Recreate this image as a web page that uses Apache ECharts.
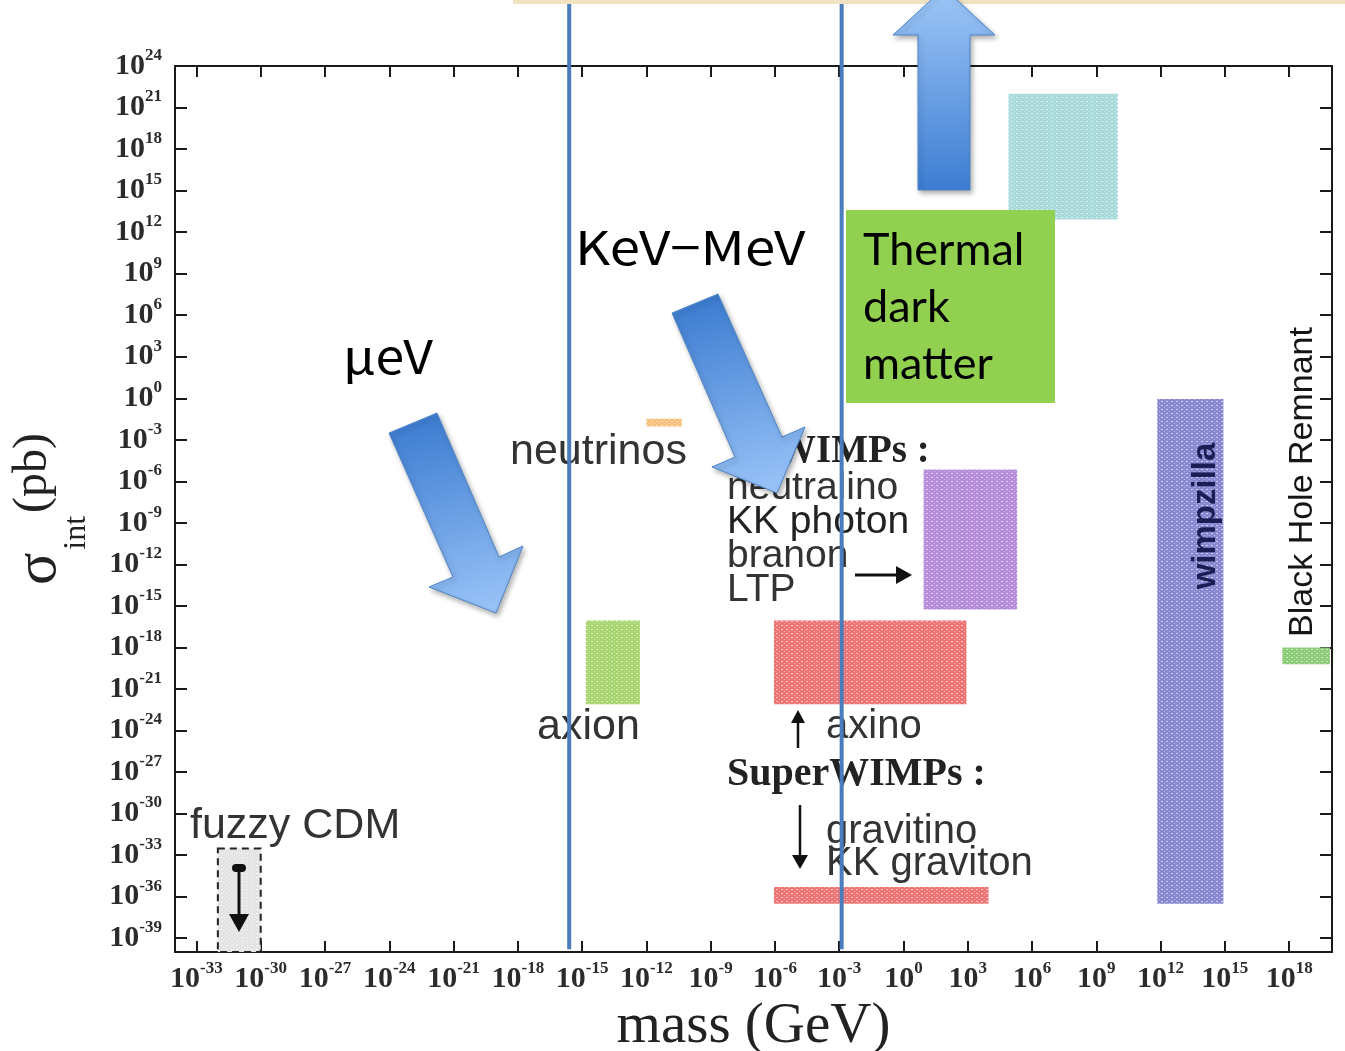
<!DOCTYPE html>
<html>
<head>
<meta charset="utf-8">
<title>Dark matter candidates</title>
<script src="https://cdn.jsdelivr.net/npm/echarts@6/dist/echarts.min.js"></script>
<style>
  html, body { margin: 0; padding: 0; background: #fff; }
  #chart { width: 1345px; height: 1051px; }
</style>
</head>
<body>
<div id="chart"></div>
<script>
// candidate regions: mass range (GeV) and interaction cross section range (pb)
const regionNames = ['fuzzy CDM', 'neutrinos', 'axion', 'WIMPs', 'axino', 'gravitino', 'wimpzilla', 'Q-ball', 'Black Hole Remnant'];
const massLow   = [1e-32, 1e-12,  1.5e-15, 8.7,     9e-7,  9e-7,   7e11,   8e4,   4.8e17];
const massHigh  = [1e-30, 4.5e-11, 5e-13,  2e5,     870,   9.3e3,  8.5e14, 1e10,  8e19];
const sigmaLow  = [1e-40, 9e-3,   8e-23,   5.6e-16, 8e-23, 3e-37,  3e-37,  8e12,  6e-20];
const sigmaHigh = [3e-33, 3.3e-2, 9e-17,   7e-6,    9e-17, 5e-36,  0.9,    1e22,  1e-18];

// blue separators drawn over the plot (GeV)
const separatorMass = [2.5e-16, 1.3e-3];
const separatorSigma = [1.6e-40, 3e28];

// tick labels
const xTicks = [1e-33, 1e-30, 1e-27, 1e-24, 1e-21, 1e-18, 1e-15, 1e-12, 1e-9, 1e-6, 1e-3, 1, 1e3, 1e6, 1e9, 1e12, 1e15, 1e18];
const yTicks = [1e-39, 1e-36, 1e-33, 1e-30, 1e-27, 1e-24, 1e-21, 1e-18, 1e-15, 1e-12, 1e-9, 1e-6, 1e-3, 1, 1e3, 1e6, 1e9, 1e12, 1e15, 1e18, 1e21, 1e24];

// region colours
const regionColors = ['#e4e4e4', '#f7c17c', '#a9d570', '#b68ddb', '#ef7575', '#ef7575', '#8787d2', '#a8dada', '#8dcc78'];

// dotted texture like the scanned figure
function dotted(color) {
  const c = document.createElement('canvas');
  c.width = 5; c.height = 4;
  const g = c.getContext('2d');
  g.fillStyle = color; g.fillRect(0, 0, 5, 4);
  g.fillStyle = 'rgba(255,255,255,0.6)';
  g.fillRect(1, 1, 2, 1);
  g.fillStyle = 'rgba(255,255,255,0.4)';
  g.fillRect(4, 3, 1, 1);
  return { image: c, repeat: 'repeat' };
}

const chart = echarts.init(document.getElementById('chart'));

const sansFont = '"Liberation Sans", Arial, sans-serif';
const serifFont = '"Liberation Serif", "Times New Roman", serif';
const slideFont = '"Noto Sans CJK JP", "Noto Sans", sans-serif';

function powLabel(v) {
  return '{b|10}{s|' + Math.round(Math.log10(v)) + '}';
}
const powRich = {
  b: { fontFamily: serifFont, fontWeight: 'bold', fontSize: 30, color: '#2b2b2b', lineHeight: 38 },
  s: { fontFamily: serifFont, fontWeight: 'bold', fontSize: 17, color: '#2b2b2b', lineHeight: 17, verticalAlign: 'top' }
};

const lineStyle = { color: '#1a1a1a', width: 2 };

function makeAxis(extra) {
  return Object.assign({
    type: 'log',
    logBase: 10,
    axisLine: { onZero: false, lineStyle: lineStyle },
    splitLine: { show: false },
    minorTick: { show: false }
  }, extra);
}

const txt = (x, y, text, size, opts) => ({
  type: 'text', x: x, y: y, z: 5,
  style: Object.assign({ text: text, font: size + 'px ' + sansFont, fill: '#333', verticalAlign: 'middle' }, opts || {})
});

const arrowFill = (x, y, x2, y2) => ({
  type: 'linear', x: x, y: y, x2: x2, y2: y2,
  colorStops: [{ offset: 0, color: '#3b7bd0' }, { offset: 1, color: '#99c3f8' }]
});
const arrowStyle = (fill) => ({
  fill: fill, stroke: '#4f86c8', lineWidth: 1,
  shadowBlur: 5, shadowColor: 'rgba(0,0,0,0.3)', shadowOffsetX: 2, shadowOffsetY: 3
});

const option = {
  animation: false,
  backgroundColor: '#fff',
  grid: { left: 175, right: 13, top: 66, bottom: 99, outerBoundsMode: 'none', containLabel: false },
  xAxis: [
    makeAxis({
      min: 1e-34, max: 1e20, position: 'bottom',
      name: 'mass (GeV)', nameLocation: 'middle', nameGap: 45,
      nameTextStyle: { fontFamily: serifFont, fontSize: 57, color: '#222' },
      axisTick: { inside: true, length: 11, lineStyle: lineStyle, customValues: xTicks },
      axisLabel: { customValues: xTicks, formatter: powLabel, rich: powRich, margin: 8, showMinLabel: true, showMaxLabel: true, hideOverlap: false }
    }),
    makeAxis({
      min: 1e-34, max: 1e20, position: 'top',
      axisTick: { inside: true, length: 11, lineStyle: lineStyle, customValues: xTicks },
      axisLabel: { show: false }
    })
  ],
  yAxis: [
    makeAxis({
      min: 1e-40, max: 1.00001e24, position: 'left',
      name: '{s|σ}{g| }{i|int}{g| }{p|(pb)}', nameLocation: 'middle', nameRotate: 90, nameGap: 82,
      nameTextStyle: {
        rich: {
          s: { fontFamily: serifFont, fontSize: 60, color: '#222', lineHeight: 70, verticalAlign: 'top' },
          g: { fontFamily: serifFont, fontSize: 12, lineHeight: 84 },
          i: { fontFamily: serifFont, fontSize: 32, color: '#222', lineHeight: 32, verticalAlign: 'bottom' },
          p: { fontFamily: serifFont, fontSize: 48, color: '#222', lineHeight: 70, verticalAlign: 'top' }
        }
      },
      axisTick: { inside: true, length: 12, lineStyle: lineStyle, customValues: yTicks },
      axisLabel: { customValues: yTicks, formatter: powLabel, rich: powRich, margin: 13, showMinLabel: true, showMaxLabel: true, hideOverlap: false }
    }),
    makeAxis({
      min: 1e-40, max: 1.00001e24, position: 'right',
      axisTick: { inside: true, length: 12, lineStyle: lineStyle, customValues: yTicks },
      axisLabel: { show: false }
    })
  ],
  series: [
    {
      type: 'custom',
      name: 'candidates',
      xAxisIndex: 0, yAxisIndex: 0,
      silent: true,
      z: 2,
      renderItem: function (params, api) {
        const tl = api.coord([api.value(0), api.value(3)]);
        const br = api.coord([api.value(1), api.value(2)]);
        const i = params.dataIndex;
        const dashed = regionNames[i] === 'fuzzy CDM';
        return {
          type: 'rect',
          shape: { x: tl[0], y: tl[1], width: br[0] - tl[0], height: br[1] - tl[1] },
          style: {
            fill: dotted(regionColors[i]),
            stroke: dashed ? '#222' : null,
            lineWidth: dashed ? 2 : 0,
            lineDash: dashed ? [7, 5] : null
          }
        };
      },
      encode: { x: [0, 1], y: [2, 3] },
      data: regionNames.map((n, i) => [massLow[i], massHigh[i], sigmaLow[i], sigmaHigh[i], n])
    }
  ].concat(separatorMass.map(m => ({
    type: 'line',
    xAxisIndex: 0, yAxisIndex: 0,
    data: [[m, separatorSigma[0]], [m, separatorSigma[1]]],
    symbol: 'none',
    clip: false,
    silent: true,
    z: 10,
    lineStyle: { color: '#4a7dbd', width: 4 }
  }))),
  graphic: [
    // top band of the slide
    { type: 'rect', shape: { x: 513, y: 0, width: 832, height: 4 }, style: { fill: '#f1e2c2' }, z: 20 },

    // figure labels
    txt(190, 826, 'fuzzy CDM', 43),
    txt(510, 452, 'neutrinos', 43),
    txt(537, 727, 'axion', 43),
    txt(777, 452, 'WIMPs :', 39, { font: 'bold 39px ' + serifFont, fill: '#222' }),
    txt(727, 488, 'neutralino', 39),
    txt(727, 522, 'KK photon', 39, { fill: '#222' }),
    txt(727, 556, 'branon', 39),
    txt(727, 590, 'LTP', 39),
    txt(826, 727, 'axino', 40),
    txt(727, 775, 'SuperWIMPs :', 40, { font: 'bold 40px ' + serifFont, fill: '#222' }),
    txt(826, 832, 'gravitino', 40),
    txt(826, 864, 'KK graviton', 40),
    {
      type: 'text', x: 1206, y: 516, rotation: Math.PI / 2, z: 5,
      style: { text: 'wimpzilla', font: 'bold 33px ' + sansFont, fill: '#1d1d55', align: 'center', verticalAlign: 'middle' }
    },
    {
      type: 'text', x: 1303, y: 482, rotation: Math.PI / 2, z: 5,
      style: { text: 'Black Hole Remnant', font: '34px ' + sansFont, fill: '#151515', align: 'center', verticalAlign: 'middle' }
    },

    // small black arrows
    { type: 'line', shape: { x1: 855, y1: 575, x2: 900, y2: 575 }, style: { stroke: '#111', lineWidth: 3 }, z: 5 },
    { type: 'polygon', shape: { points: [[896, 566], [912, 575], [896, 584]] }, style: { fill: '#111' }, z: 5 },
    { type: 'line', shape: { x1: 798, y1: 748, x2: 798, y2: 720 }, style: { stroke: '#111', lineWidth: 2.5 }, z: 5 },
    { type: 'polygon', shape: { points: [[791, 723], [798, 710], [805, 723]] }, style: { fill: '#111' }, z: 5 },
    { type: 'line', shape: { x1: 800, y1: 805, x2: 800, y2: 858 }, style: { stroke: '#111', lineWidth: 2.5 }, z: 5 },
    { type: 'polygon', shape: { points: [[792, 855], [800, 869], [808, 855]] }, style: { fill: '#111' }, z: 5 },
    { type: 'line', shape: { x1: 239, y1: 868, x2: 239, y2: 918 }, style: { stroke: '#111', lineWidth: 3 }, z: 5 },
    { type: 'rect', shape: { x: 232, y: 864, width: 14, height: 8, r: 4 }, style: { fill: '#111' }, z: 5 },
    { type: 'polygon', shape: { points: [[229, 914], [249, 914], [239, 932]] }, style: { fill: '#111' }, z: 5 },

    // slide annotations
    {
      type: 'text', x: 343, y: 356, z: 20, scaleX: 1.1,
      style: { text: 'μeV', font: '47px ' + slideFont, fill: '#000', verticalAlign: 'middle' }
    },
    {
      type: 'text', x: 575, y: 247, z: 20, scaleX: 1.16,
      style: { text: 'KeV−MeV', font: '47px ' + slideFont, fill: '#000', verticalAlign: 'middle' }
    },
    { type: 'rect', shape: { x: 846, y: 210, width: 209, height: 193 }, style: { fill: '#92d050' }, z: 20 },
    {
      type: 'text', x: 863, y: 222, z: 21,
      style: { text: 'Thermal\ndark\nmatter', font: '45px Lato, "Open Sans", sans-serif', lineHeight: 57, fill: '#000', verticalAlign: 'top' }
    },
    {
      type: 'polygon', z: 20,
      shape: { points: [[918, 190], [970, 190], [970, 35], [995, 35], [944, -12], [893, 35], [918, 35]] },
      style: arrowStyle({ type: 'linear', x: 0, y: 0, x2: 0, y2: 1,
        colorStops: [{ offset: 0, color: '#9fc7f8' }, { offset: 1, color: '#3c7dd2' }] })
    },
    {
      type: 'polygon', z: 20,
      shape: { points: [[389, 433], [437, 413], [499, 557], [523, 546], [496, 613], [429, 587], [453, 577]] },
      style: arrowStyle(arrowFill(0.3, 0, 0.7, 1))
    },
    {
      type: 'polygon', z: 20,
      shape: { points: [[672, 313], [718, 294], [782, 437], [805, 427], [777, 493], [712, 467], [735, 457]] },
      style: arrowStyle(arrowFill(0.3, 0, 0.7, 1))
    }
  ]
};

chart.setOption(option);
</script>
</body>
</html>
